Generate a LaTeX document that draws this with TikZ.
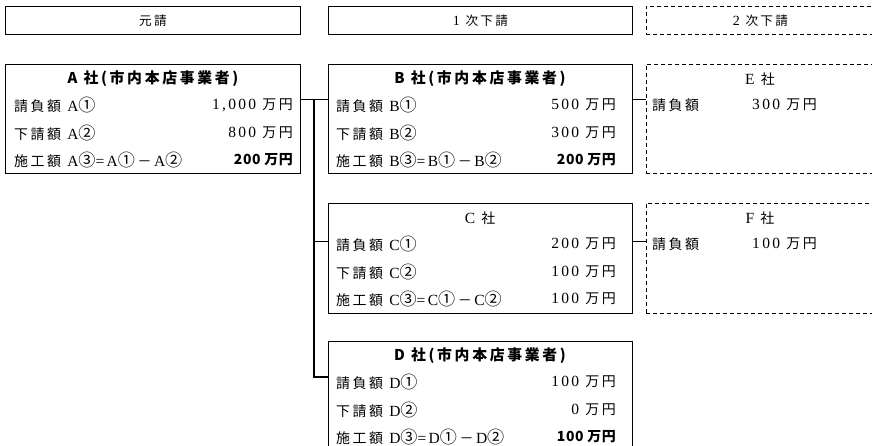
\documentclass[tikz,border=0pt]{standalone}
\usepackage{fontspec}
\setmainfont{Liberation Serif}[LetterSpace=15]
\newfontfamily\jp{Noto Sans CJK JP}[Scale=0.9,LetterSpace=18]
\newfontfamily\jb{Noto Sans CJK JP}[Scale=0.9,LetterSpace=4]
\newcommand{\jt}[1]{{\jp #1}}
\newcommand{\cn}[1]{{\jp\fontsize{19}{19}\selectfont #1}}
\newcommand{\bv}[1]{{\jb\bfseries #1}}
\usetikzlibrary{positioning}

\begin{document}
\begin{tikzpicture}[x=1pt,y=-1pt,
    box/.style={draw,line width=0.8pt,inner sep=0pt,anchor=north west},
    dbox/.style={box,dash pattern=on 4pt off 3pt},
    head/.style={inner sep=0pt,font=\fontsize{14}{14}\selectfont},
    title/.style={inner sep=0pt,font=\fontsize{15.5}{15.5}\selectfont},
    btitle/.style={inner sep=0pt,font=\fontsize{16.5}{16.5}\selectfont\jp\bfseries},
    row/.style={inner sep=0pt,anchor=west,font=\fontsize{15.5}{15.5}\selectfont},
    val/.style={inner sep=0pt,anchor=east,font=\fontsize{15.5}{15.5}\selectfont},
    link/.style={line width=0.8pt},
    trunk/.style={line width=1.8pt}]

    \useasboundingbox (0,0) rectangle (872,446);

    % Column heads
    \node [box,minimum width=295pt,minimum height=28pt] at (5,6) (h1) {};
    \node [box,minimum width=304pt,minimum height=28pt] at (328,6) (h2) {};
    \node [dbox,minimum width=228pt,minimum height=28pt] at (646,6) (h3) {};
    \node [head] at (h1.center) (h1t) {\jt{元請}};
    \node [head] at (h2.center) (h2t) {1 \jt{次下請}};
    \node [head] at (h3.center) (h3t) {2 \jt{次下請}};

    % A
    \node [box,minimum width=295pt,minimum height=109pt] at (5,64) (A) {};
    \node [btitle] at (153,79) (At) {A 社(市内本店事業者)};
    \node [row] at (14,105) (A1) {\jt{請負額} A\cn{①}};
    \node [row] at (14,133) (A2) {\jt{下請額} A\cn{②}};
    \node [row] at (14,160) (A3) {\jt{施工額} A\cn{③}=A\cn{①}\,\jt{－}\,A\cn{②}};
    \node [val] at (293,105) (A1v) {1,000 \jt{万円}};
    \node [val] at (293,133) (A2v) {800 \jt{万円}};
    \node [val] at (293,160) (A3v) {\bv{200 万円}};

    % B
    \node [box,minimum width=304pt,minimum height=109pt] at (328,64) (B) {};
    \node [btitle] at (480,79) (Bt) {B 社(市内本店事業者)};
    \node [row] at (336,105) (B1) {\jt{請負額} B\cn{①}};
    \node [row] at (336,133) (B2) {\jt{下請額} B\cn{②}};
    \node [row] at (336,160) (B3) {\jt{施工額} B\cn{③}=B\cn{①}\,\jt{－}\,B\cn{②}};
    \node [val] at (616,105) (B1v) {500 \jt{万円}};
    \node [val] at (616,133) (B2v) {300 \jt{万円}};
    \node [val] at (616,160) (B3v) {\bv{200 万円}};

    % C
    \node [box,minimum width=304pt,minimum height=110pt] at (328,203) (C) {};
    \node [title] at (480,218) (Ct) {C \jt{社}};
    \node [row] at (336,244) (C1) {\jt{請負額} C\cn{①}};
    \node [row] at (336,272) (C2) {\jt{下請額} C\cn{②}};
    \node [row] at (336,299) (C3) {\jt{施工額} C\cn{③}=C\cn{①}\,\jt{－}\,C\cn{②}};
    \node [val] at (616,244) (C1v) {200 \jt{万円}};
    \node [val] at (616,272) (C2v) {100 \jt{万円}};
    \node [val] at (616,299) (C3v) {100 \jt{万円}};

    % D
    \node [box,minimum width=304pt,minimum height=114pt] at (328,341) (D) {};
    \node [btitle] at (480,356) (Dt) {D 社(市内本店事業者)};
    \node [row] at (336,382) (D1) {\jt{請負額} D\cn{①}};
    \node [row] at (336,410) (D2) {\jt{下請額} D\cn{②}};
    \node [row] at (336,437) (D3) {\jt{施工額} D\cn{③}=D\cn{①}\,\jt{－}\,D\cn{②}};
    \node [val] at (616,382) (D1v) {100 \jt{万円}};
    \node [val] at (616,410) (D2v) {0 \jt{万円}};
    \node [val] at (616,437) (D3v) {\bv{100 万円}};

    % E and F
    \node [dbox,minimum width=228pt,minimum height=109pt] at (646,64) (E) {};
    \node [title] at (760,79) (Et) {E \jt{社}};
    \node [row] at (652,105) (E1) {\jt{請負額}};
    \node [row] at (752,105) (E1v) {300 \jt{万円}};

    \node [dbox,minimum width=228pt,minimum height=110pt] at (646,203) (F) {};
    \node [title] at (760,218) (Ft) {F \jt{社}};
    \node [row] at (652,244) (F1) {\jt{請負額}};
    \node [row] at (752,244) (F1v) {100 \jt{万円}};

    % Connectors
    \coordinate (jA) at (314,99);
    \coordinate (jC) at (314,241);
    \coordinate (jD) at (314,377);
    \draw [link] (A.east |- jA) -- (B.west |- jA);
    \draw [trunk] (jA) -- (jD) -- (D.west |- jD);
    \draw [link] (jC) -- (C.west |- jC);
    \draw [link] (B.east |- jA) -- (E.west |- jA);
    \draw [link] (C.east |- jC) -- (F.west |- jC);

\end{tikzpicture}
\end{document}
